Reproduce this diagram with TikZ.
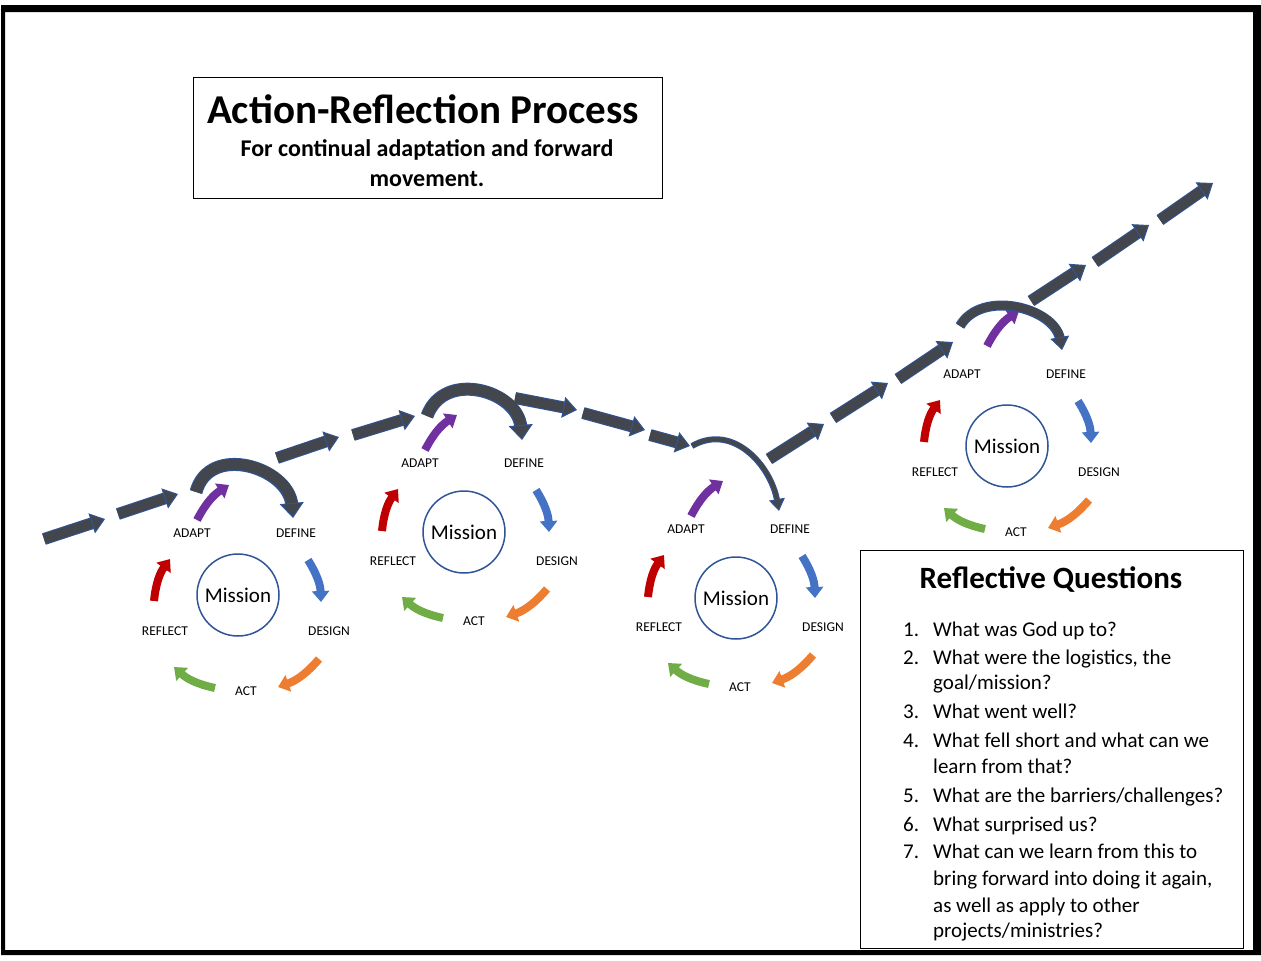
\documentclass[tikz,border=0pt]{standalone}
\usepackage{fontspec}
\setmainfont{Carlito}
\usepackage{tikz}
\usetikzlibrary{positioning, arrows.meta}
\definecolor{ardoise}{RGB}{67,71,77}
\definecolor{bordardoise}{RGB}{47,85,151}
\definecolor{bleumission}{RGB}{47,85,151}
\definecolor{violetcycle}{RGB}{112,48,160}
\definecolor{rougecycle}{RGB}{192,0,0}
\definecolor{bleucycle}{RGB}{68,114,196}
\definecolor{orangecycle}{RGB}{237,125,49}
\definecolor{vertcycle}{RGB}{112,173,71}

\begin{document}
\begin{tikzpicture}[x=1pt, y=-1pt,
    pas/.style n args={3}{draw=ardoise, line width=#1,
      -{Triangle[width=#2, length=#3, color=bordardoise, fill=ardoise, line width=1pt]},
      preaction={draw=bordardoise, line width=#1+2pt, -, shorten >=#3-2pt}},
    tour/.style={line width=8pt, -{Triangle[length=11pt, width=17pt]}},
    etiq/.style={inner sep=0pt, font=\fontsize{13.5}{16}\selectfont},
    mission/.style={circle, draw=bleumission, line width=1.5pt, minimum size=82pt,
                    inner sep=0pt, font=\fontsize{21}{25}\selectfont},
    cadre/.style={draw, line width=1pt, inner sep=0pt},
    soustitre/.style={anchor=base, inner sep=0pt, font=\bfseries\fontsize{24}{30}\selectfont},
    question/.style={anchor=base west, inner sep=0pt, font=\fontsize{21}{26.5}\selectfont}]
  \useasboundingbox (0,0) rectangle (1261,961);
  \fill[even odd rule] (1,5) rectangle (1261,955) (5,12) rectangle (1253,950);

  % title box
  \node[cadre, minimum width=469pt, minimum height=121pt] (cadre) at (427.5,137.5) {};
  \node[anchor=base, font=\bfseries\fontsize{41}{49}\selectfont] (titre) at (423,123)
    {Action-Reflection Process};
  \node[soustitre] (sous1) at (427,156) {For continual adaptation and forward};
  \node[soustitre] (sous2) at (427,186) {movement.};

  % the four cycles
  \foreach \n/\ax/\ay/\mx/\my/\vx/\vy in {1/192/533/46/62/0/0, 2/420/463/44/69/0/0,
      3/686/529/50/69/0/0, 4/962/374/45/72/20/-15}{
    \node[etiq] (adapt\n) at (\ax,\ay) {ADAPT};
    \node[etiq] (define\n) at ([shift={(104,0)}]adapt\n) {DEFINE};
    \node[etiq] (design\n) at ([shift={(137,98)}]adapt\n) {DESIGN};
    \node[etiq] (act\n) at ([shift={(54,158)}]adapt\n) {ACT};
    \node[etiq] (reflect\n) at ([shift={(-27,98)}]adapt\n) {REFLECT};
    \node[mission] (mission\n) at ([shift={(\mx,\my)}]adapt\n) {Mission};
    \draw[tour, violetcycle] ([shift={(5+\vx,-13+\vy)}]adapt\n.center) to[bend left=15]
      ([shift={(37+\vx,-48+\vy)}]adapt\n.center);
    \draw[tour, bleucycle] ([shift={(116,27)}]adapt\n.center) to[bend left=15]
      ([shift={(129,69)}]adapt\n.center);
    \draw[tour, orangecycle] ([shift={(127,126)}]adapt\n.center) to[bend left=15]
      ([shift={(86,154)}]adapt\n.center);
    \draw[tour, vertcycle] ([shift={(23,155)}]adapt\n.center) to[bend left=15]
      ([shift={(-18,134)}]adapt\n.center);
    \draw[tour, rougecycle] ([shift={(-38,68)}]adapt\n.center) to[bend left=15]
      ([shift={(-22,26)}]adapt\n.center);
  }

  % forward path
  \foreach \xa/\ya/\xb/\yb in {44/539/105/519, 118/514/178/494, 277/458/339/437,
      353/435/415/416, 515/398/577/410, 583/413/645/430, 650/435/690/446,
      769/459/824/424, 833/418/888/383, 898/379/953/342, 1031/301/1086/265,
      1095/262/1149/225, 1160/220/1213/183}
    \draw[pas={10pt}{21pt}{14pt}] (\xa,\ya) -- (\xb,\yb);
  \draw[pas={11pt}{24pt}{15pt}] (196,492) to[out=75, in=95, looseness=1.3] (293,518);
  \draw[pas={11pt}{24pt}{15pt}] (427,416) to[out=70, in=95, looseness=1.3] (522,440);
  \draw[pas={4pt}{16pt}{12pt}] (692,446) to[out=30, in=100, looseness=1.1] (779,511);
  \draw[pas={8pt}{19pt}{13pt}] (960,326) to[out=60, in=100, looseness=1.05] (1062,350);

  % questions box
  \node[cadre, minimum width=383pt, minimum height=398pt] (questions) at (1051.5,749) {};
  \node[anchor=base, font=\bfseries\fontsize{31}{37}\selectfont] (qtitre) at (1051,588)
    {Reflective Questions};
  \foreach \i/\y in {1/636, 2/664, 3/718, 4/747, 5/802, 6/831, 7/858}
    \node[question] (num\i) at (903,\y) {\i.};
  \node[question] (q1) at (933,636) {What was God up to?};
  \node[question] (q2) at (933,664) {What were the logistics, the};
  \node[question] (q2b) at (933,689) {goal/mission?};
  \node[question] (q3) at (933,718) {What went well?};
  \node[question] (q4) at (933,747) {What fell short and what can we};
  \node[question] (q4b) at (933,773) {learn from that?};
  \node[question] (q5) at (933,802) {What are the barriers/challenges?};
  \node[question] (q6) at (933,831) {What surprised us?};
  \node[question] (q7) at (933,858) {What can we learn from this to};
  \node[question] (q7b) at (933,885) {bring forward into doing it again,};
  \node[question] (q7c) at (933,912) {as well as apply to other};
  \node[question] (q7d) at (933,937) {projects/ministries?};
\end{tikzpicture}
\end{document}
